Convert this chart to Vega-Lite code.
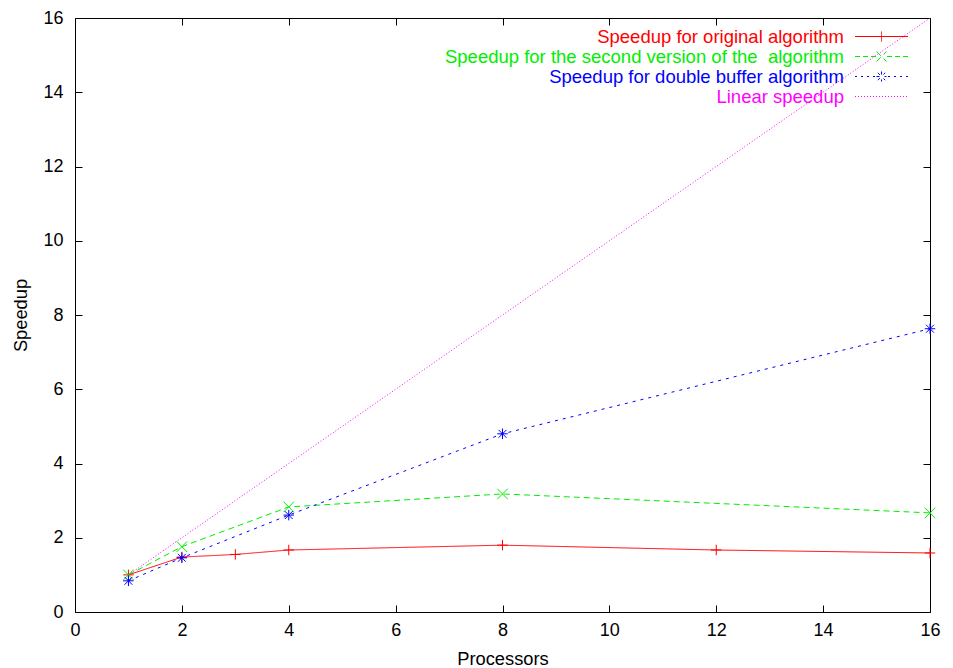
{
  "$schema": "https://vega.github.io/schema/vega-lite/v6.json",
  "width": 855,
  "height": 594,
  "autosize": "none",
  "padding": {"left": 75, "top": 18, "right": 23, "bottom": 56},
  "background": "white",
  "config": {
    "font": "Liberation Sans",
    "view": {"stroke": "black", "strokeWidth": 1},
    "axis": {
      "grid": false,
      "domain": false,
      "tickColor": "black",
      "tickSize": -7,
      "labelFlush": false,
      "labelFontSize": 18,
      "labelColor": "black",
      "labelFont": "Liberation Sans",
      "titleFont": "Liberation Sans",
      "titleFontSize": 18.3,
      "titleFontWeight": "normal",
      "titleColor": "black"
    }
  },
  "data": {
    "values": [
      {"series": "Speedup for original algorithm", "p": 1, "s": 1.0},
      {"series": "Speedup for original algorithm", "p": 2, "s": 1.48},
      {"series": "Speedup for original algorithm", "p": 3, "s": 1.55},
      {"series": "Speedup for original algorithm", "p": 4, "s": 1.67},
      {"series": "Speedup for original algorithm", "p": 8, "s": 1.8},
      {"series": "Speedup for original algorithm", "p": 12, "s": 1.67},
      {"series": "Speedup for original algorithm", "p": 16, "s": 1.59},
      {"series": "Speedup for the second version of the  algorithm", "p": 1, "s": 1.0},
      {"series": "Speedup for the second version of the  algorithm", "p": 2, "s": 1.76},
      {"series": "Speedup for the second version of the  algorithm", "p": 4, "s": 2.83},
      {"series": "Speedup for the second version of the  algorithm", "p": 8, "s": 3.18},
      {"series": "Speedup for the second version of the  algorithm", "p": 16, "s": 2.67},
      {"series": "Speedup for double buffer algorithm", "p": 1, "s": 0.84},
      {"series": "Speedup for double buffer algorithm", "p": 2, "s": 1.46},
      {"series": "Speedup for double buffer algorithm", "p": 4, "s": 2.61},
      {"series": "Speedup for double buffer algorithm", "p": 8, "s": 4.8},
      {"series": "Speedup for double buffer algorithm", "p": 16, "s": 7.63},
      {"series": "Linear speedup", "p": 1, "s": 1},
      {"series": "Linear speedup", "p": 16, "s": 16}
    ]
  },
  "layer": [
    {
      "mark": {"type": "line", "strokeWidth": 1},
      "encoding": {
        "x": {
          "field": "p", "type": "quantitative", "title": "Processors",
          "scale": {"domain": [0, 16], "nice": false},
          "axis": {"values": [0, 2, 4, 6, 8, 10, 12, 14, 16], "labelPadding": 16, "titlePadding": 11}
        },
        "y": {
          "field": "s", "type": "quantitative", "title": "Speedup",
          "scale": {"domain": [0, 16], "nice": false},
          "axis": {"values": [0, 2, 4, 6, 8, 10, 12, 14, 16], "labelPadding": 19, "titlePadding": 12}
        },
        "color": {
          "field": "series", "type": "nominal",
          "scale": {
            "domain": ["Speedup for original algorithm", "Speedup for the second version of the  algorithm", "Speedup for double buffer algorithm", "Linear speedup"],
            "range": ["#ff0000", "#00ee00", "#0000ff", "#ff00ff"]
          },
          "legend": {
            "title": null,
            "orient": "none",
            "legendX": 796,
            "legendY": 8,
            "padding": 0,
            "direction": "vertical",
            "symbolType": {"expr": "datum.value === 'Speedup for original algorithm' ? 'M-2.65,0L2.65,0M0,-0.5L0,0.5' : datum.value === 'Linear speedup' ? 'M-2.65,0L-2.55,0M-2.35,0L-2.25,0M-2.05,0L-1.95,0M-1.75,0L-1.65,0M-1.45,0L-1.35,0M-1.15,0L-1.05,0M-0.85,0L-0.75,0M-0.55,0L-0.45,0M-0.25,0L-0.15,0M0.05,0L0.15,0M0.35,0L0.45,0M0.65,0L0.75,0M0.95,0L1.05,0M1.25,0L1.35,0M1.55,0L1.65,0M1.85,0L1.95,0M2.15,0L2.25,0M2.45,0L2.55,0' : datum.value === 'Speedup for double buffer algorithm' ? 'M-2.65,0L-2.45,0M-2.05,0L-1.85,0M-1.45,0L-1.25,0M-0.85,0L-0.65,0M0.65,0L0.85,0M1.25,0L1.45,0M1.85,0L2.05,0M2.45,0L2.65,0M-0.5,0L0.5,0M0,-0.5L0,0.5M-0.37,-0.37L0.37,0.37M-0.37,0.37L0.37,-0.37' : 'M-2.65,0L-2.15,0M-1.85,0L-1.35,0M-1.05,0L-0.55,0M0.55,0L1.05,0M1.35,0L1.85,0M2.15,0L2.65,0M-0.5,-0.5L0.5,0.5M-0.5,0.5L0.5,-0.5'"},
            "symbolSize": 400,
            "symbolStrokeWidth": 1,
            "symbolFillColor": "transparent",
            "symbolDash": [1, 0],
            "labelFontSize": 18.5,
            "labelFont": "Liberation Sans",
            "labelLimit": 0,
            "labelAlign": "right",
            "labelOffset": -48,
            "rowPadding": -8,
            "labelExpr": "replace(datum.label, '  ', ' \u00a0')",
            "labelColor": {"expr": "scale('color', datum.value)"}
          }
        },
        "strokeDash": {
          "field": "series", "type": "nominal",
          "scale": {
            "domain": ["Speedup for original algorithm", "Speedup for the second version of the  algorithm", "Speedup for double buffer algorithm", "Linear speedup"],
            "range": [[1, 0], [6, 4], [3, 5], [1, 2]]
          },
          "legend": null
        }
      }
    },
    {
      "transform": [{"filter": "datum.series !== 'Linear speedup'"}],
      "mark": {"type": "point", "filled": false, "strokeWidth": 1, "opacity": 1},
      "encoding": {
        "x": {
          "field": "p", "type": "quantitative",
          "axis": {"orient": "top", "values": [0, 2, 4, 6, 8, 10, 12, 14, 16], "labels": false, "title": null}
        },
        "y": {
          "field": "s", "type": "quantitative",
          "axis": {"orient": "right", "values": [0, 2, 4, 6, 8, 10, 12, 14, 16], "labels": false, "title": null}
        },
        "color": {"field": "series", "type": "nominal"},
        "shape": {
          "field": "series", "type": "nominal",
          "scale": {
            "domain": ["Speedup for original algorithm", "Speedup for the second version of the  algorithm", "Speedup for double buffer algorithm"],
            "range": ["M-1,0L1,0M0,-1L0,1", "M-1,-1L1,1M-1,1L1,-1", "M-1,0L1,0M0,-1L0,1M-0.75,-0.75L0.75,0.75M-0.75,0.75L0.75,-0.75"]
          },
          "legend": null
        },
        "size": {"value": 110}
      }
    }
  ],
  "resolve": {"axis": {"x": "independent", "y": "independent"}}
}
